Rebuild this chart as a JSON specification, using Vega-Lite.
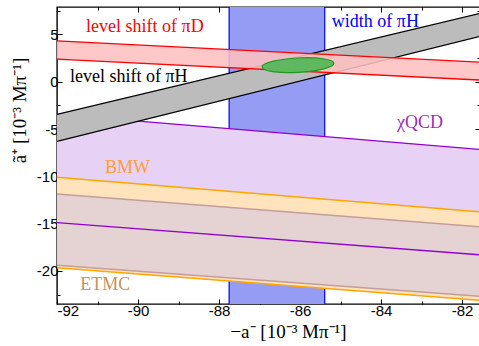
{
  "$schema": "https://vega.github.io/schema/vega-lite/v6.json",
  "width": 423,
  "height": 297,
  "autosize": {"type": "none"},
  "padding": {"left": 57, "top": 7, "right": 0, "bottom": 42},
  "background": "white",
  "config": {
    "view": {"stroke": "black", "strokeWidth": 1.4},
    "axis": {"grid": false, "domain": false, "labelFont": "Liberation Sans", "labelFontSize": 15, "labelColor": "black", "titleFont": "Liberation Serif", "titleFontSize": 19, "titleFontWeight": "normal", "titleColor": "black", "tickColor": "black", "tickWidth": 1}
  },
  "datasets": {
    "bands": [
      {"band": "piD", "x": -92, "hi": 4.32, "lo": 2.39},
      {"band": "piD", "x": -81.556, "hi": 2.07, "lo": 0.17},
      {"band": "piH", "x": -92, "hi": -3.46, "lo": -6.3},
      {"band": "piH", "x": -81.556, "hi": 7.22, "lo": 4.8},
      {"band": "chi", "x": -92, "hi": -3.46, "lo": -14.89},
      {"band": "chi", "x": -81.556, "hi": -7.16, "lo": -18.3},
      {"band": "BMW", "x": -92, "hi": -10.1, "lo": -19.68},
      {"band": "BMW", "x": -81.556, "hi": -13.75, "lo": -23.1},
      {"band": "ETMC", "x": -92, "hi": -11.88, "lo": -19.4},
      {"band": "ETMC", "x": -81.556, "hi": -15.34, "lo": -22.7}
    ],
    "width": [{"x": -87.75, "x2": -85.39, "top": 7.9, "bottom": -23.5}],
    "ellipse": [{"x": -86.05, "y": 1.75}],
    "labels": [
      {"text": "level shift of πD", "x": -89.83, "y": 5.8, "group": "piD"},
      {"text": "level shift of πH", "x": -90.23, "y": 0.5, "group": "piH"},
      {"text": "width of πH", "x": -84.14, "y": 6.35, "group": "width"},
      {"text": "χQCD", "x": -83.04, "y": -4.4, "group": "chi"},
      {"text": "BMW", "x": -90.26, "y": -9.15, "group": "BMW"},
      {"text": "ETMC", "x": -90.81, "y": -21.5, "group": "ETMC"}
    ]
  },
  "resolve": {"axis": {"x": "independent", "y": "independent"}},
  "layer": [
    {
      "data": {"name": "width"},
      "mark": {"type": "rect", "fill": "#949cf3"},
      "encoding": {
        "x": {"field": "x", "type": "quantitative", "scale": {"domain": [-92, -81.556], "nice": false, "zero": false},
          "axis": {"orient": "bottom", "values": [-92, -91, -90, -89, -88, -87, -86, -85, -84, -83, -82],
            "labelExpr": "datum.value % 2 == 0 ? toString(datum.value) : ''",
            "tickSize": {"condition": {"test": "datum.value % 2 != 0", "value": -3}, "value": -5},
            "labelPadding": 4, "title": "−a⁻  [10⁻³ Mπ⁻¹]", "titleX": 231, "titleY": 27, "titleBaseline": "middle", "titleAnchor": "middle"}},
        "x2": {"field": "x2"},
        "y": {"field": "top", "type": "quantitative", "scale": {"domain": [-23.5, 7.9], "nice": false, "zero": false},
          "axis": {"orient": "left", "values": [-22.5, -20, -17.5, -15, -12.5, -10, -7.5, -5, -2.5, 0, 2.5, 5, 7.5],
            "labelExpr": "datum.value % 5 == 0 ? toString(datum.value) : ''",
            "tickSize": {"condition": {"test": "datum.value % 5 != 0", "value": -3}, "value": -5},
            "labelPadding": 4, "title": "ã⁺  [10⁻³ Mπ⁻¹]", "titleX": -38, "titleY": 103, "titleBaseline": "middle", "titleAngle": -90}},
        "y2": {"field": "bottom"}
      }
    },
    {
      "data": {"name": "width"},
      "mark": {"type": "rule", "color": "#0000ff", "strokeWidth": 1.2},
      "encoding": {"x": {"field": "x", "type": "quantitative", "axis": null}}
    },
    {
      "data": {"name": "width"},
      "mark": {"type": "rule", "color": "#0000ff", "strokeWidth": 1.2},
      "encoding": {"x": {"field": "x2", "type": "quantitative", "axis": null}}
    },
    {
      "data": {"name": "bands"},
      "transform": [{"filter": "datum.band == 'chi'"}],
      "mark": {"type": "area", "fill": "#e7d2f6", "opacity": 1},
      "encoding": {"x": {"field": "x", "type": "quantitative", "axis": null}, "y": {"field": "hi", "type": "quantitative", "axis": null}, "y2": {"field": "lo"}}
    },
    {
      "data": {"name": "bands"},
      "transform": [{"filter": "datum.band == 'BMW'"}],
      "mark": {"type": "area", "fill": "#ffe3bc", "opacity": 1},
      "encoding": {"x": {"field": "x", "type": "quantitative", "axis": null}, "y": {"field": "hi", "type": "quantitative", "axis": null}, "y2": {"field": "lo"}}
    },
    {
      "data": {"name": "bands"},
      "transform": [{"filter": "datum.band == 'ETMC'"}],
      "mark": {"type": "area", "fill": "#e5d2d2", "opacity": 1},
      "encoding": {"x": {"field": "x", "type": "quantitative", "axis": null}, "y": {"field": "hi", "type": "quantitative", "axis": null}, "y2": {"field": "lo"}}
    },
    {
      "data": {"name": "bands"},
      "transform": [{"filter": "datum.band == 'BMW'"}],
      "mark": {"type": "line", "color": "#ffa500", "strokeWidth": 1.5},
      "encoding": {"x": {"field": "x", "type": "quantitative", "axis": null}, "y": {"field": "hi", "type": "quantitative", "axis": null}}
    },
    {
      "data": {"name": "bands"},
      "transform": [{"filter": "datum.band == 'BMW'"}],
      "mark": {"type": "line", "color": "#ffa500", "strokeWidth": 1.5},
      "encoding": {"x": {"field": "x", "type": "quantitative", "axis": null}, "y": {"field": "lo", "type": "quantitative", "axis": null}}
    },
    {
      "data": {"name": "bands"},
      "transform": [{"filter": "datum.band == 'ETMC'"}],
      "mark": {"type": "line", "color": "#c49c9c", "strokeWidth": 1.5},
      "encoding": {"x": {"field": "x", "type": "quantitative", "axis": null}, "y": {"field": "hi", "type": "quantitative", "axis": null}}
    },
    {
      "data": {"name": "bands"},
      "transform": [{"filter": "datum.band == 'ETMC'"}],
      "mark": {"type": "line", "color": "#c49c9c", "strokeWidth": 1.5},
      "encoding": {"x": {"field": "x", "type": "quantitative", "axis": null}, "y": {"field": "lo", "type": "quantitative", "axis": null}}
    },
    {
      "data": {"name": "bands"},
      "transform": [{"filter": "datum.band == 'chi'"}],
      "mark": {"type": "line", "color": "#9000d0", "strokeWidth": 1.3},
      "encoding": {"x": {"field": "x", "type": "quantitative", "axis": null}, "y": {"field": "hi", "type": "quantitative", "axis": null}}
    },
    {
      "data": {"name": "bands"},
      "transform": [{"filter": "datum.band == 'chi'"}],
      "mark": {"type": "line", "color": "#9000d0", "strokeWidth": 1.3},
      "encoding": {"x": {"field": "x", "type": "quantitative", "axis": null}, "y": {"field": "lo", "type": "quantitative", "axis": null}}
    },
    {
      "data": {"name": "bands"},
      "transform": [{"filter": "datum.band == 'piH'"}],
      "mark": {"type": "area", "fill": "#bcbcbc", "opacity": 1},
      "encoding": {"x": {"field": "x", "type": "quantitative", "axis": null}, "y": {"field": "hi", "type": "quantitative", "axis": null}, "y2": {"field": "lo"}}
    },
    {
      "data": {"name": "bands"},
      "transform": [{"filter": "datum.band == 'piH'"}],
      "mark": {"type": "line", "color": "#000000", "strokeWidth": 1.3},
      "encoding": {"x": {"field": "x", "type": "quantitative", "axis": null}, "y": {"field": "hi", "type": "quantitative", "axis": null}}
    },
    {
      "data": {"name": "bands"},
      "transform": [{"filter": "datum.band == 'piH'"}],
      "mark": {"type": "line", "color": "#000000", "strokeWidth": 1.3},
      "encoding": {"x": {"field": "x", "type": "quantitative", "axis": null}, "y": {"field": "lo", "type": "quantitative", "axis": null}}
    },
    {
      "data": {"name": "bands"},
      "transform": [{"filter": "datum.band == 'piD'"}],
      "mark": {"type": "area", "fill": "#ffc0c0", "opacity": 0.88},
      "encoding": {"x": {"field": "x", "type": "quantitative", "axis": null}, "y": {"field": "hi", "type": "quantitative", "axis": null}, "y2": {"field": "lo"}}
    },
    {
      "data": {"name": "bands"},
      "transform": [{"filter": "datum.band == 'piD'"}],
      "mark": {"type": "line", "color": "#ff0000", "strokeWidth": 1.4},
      "encoding": {"x": {"field": "x", "type": "quantitative", "axis": null}, "y": {"field": "hi", "type": "quantitative", "axis": null}}
    },
    {
      "data": {"name": "bands"},
      "transform": [{"filter": "datum.band == 'piD'"}],
      "mark": {"type": "line", "color": "#ff0000", "strokeWidth": 1.4},
      "encoding": {"x": {"field": "x", "type": "quantitative", "axis": null}, "y": {"field": "lo", "type": "quantitative", "axis": null}}
    },
    {
      "data": {"name": "ellipse"},
      "mark": {"type": "point", "shape": "M -1 0 A 1 0.2 0 1 1 1 0 A 1 0.2 0 1 1 -1 0 Z", "size": 5184, "filled": true, "fill": "#5fb85f", "stroke": "#1f9a1f", "strokeWidth": 1.2, "opacity": 1, "angle": -3},
      "encoding": {
        "x": {"field": "x", "type": "quantitative",
          "axis": {"orient": "top", "values": [-92, -91, -90, -89, -88, -87, -86, -85, -84, -83, -82], "labels": false, "title": null,
            "tickSize": {"condition": {"test": "datum.value % 2 != 0", "value": -3}, "value": -5}}},
        "y": {"field": "y", "type": "quantitative",
          "axis": {"orient": "right", "values": [-22.5, -20, -17.5, -15, -12.5, -10, -7.5, -5, -2.5, 0, 2.5, 5, 7.5], "labels": false, "title": null,
            "tickSize": {"condition": {"test": "datum.value % 5 != 0", "value": -3}, "value": -5}}}
      }
    },
    {
      "data": {"name": "labels"},
      "mark": {"type": "text", "font": "Liberation Serif", "fontSize": 18, "baseline": "middle", "align": "center"},
      "encoding": {
        "x": {"field": "x", "type": "quantitative", "axis": null},
        "y": {"field": "y", "type": "quantitative", "axis": null},
        "text": {"field": "text"},
        "color": {"field": "group", "type": "nominal", "legend": null,
          "scale": {"domain": ["piD", "piH", "width", "chi", "BMW", "ETMC"], "range": ["#ff0000", "#000000", "#0000ff", "#9a30b0", "#ff9f30", "#c8915a"]}}
      }
    }
  ]
}
